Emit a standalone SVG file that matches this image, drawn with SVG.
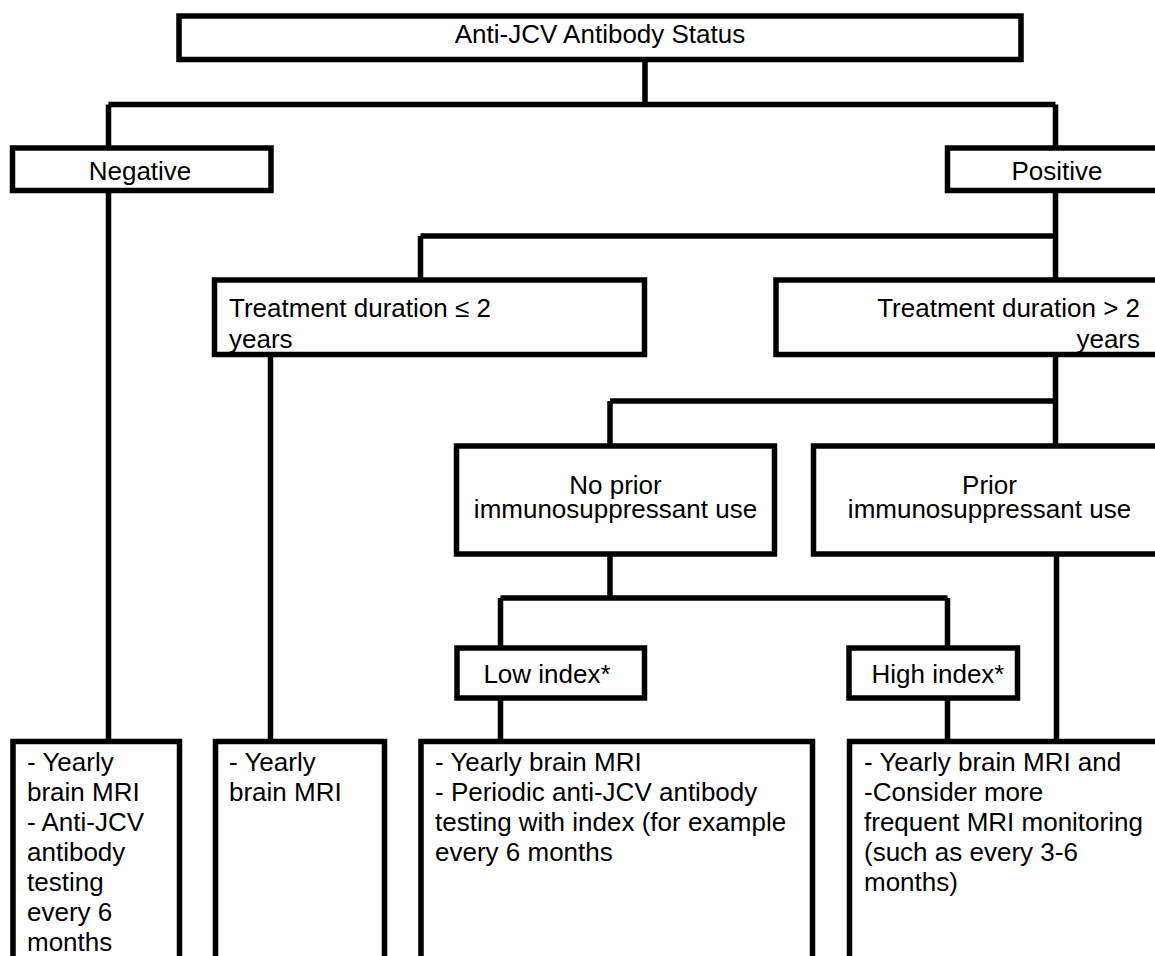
<svg xmlns="http://www.w3.org/2000/svg" width="1155" height="956" viewBox="0 0 1155 956">
<style>
.b{fill:#fff;stroke:#000;stroke-width:5.5}
.c{fill:none;stroke:#000;stroke-width:5.5}
text{font-family:"Liberation Sans",Arial,sans-serif;font-size:26px;fill:#000}
.m{text-anchor:middle}
.e{text-anchor:end}
</style>
<rect width="1155" height="956" fill="#fff"/>
<g id="connectors">
<path class="c" d="M645 59.5V104.5M108.5 104.5H1055.5M108.5 104.5V148M1055.5 104.5V148"/>
<path class="c" d="M108.5 190.5V741.5"/>
<path class="c" d="M1055.5 190.5V280M420.5 236H1055.5M420.5 236V280"/>
<path class="c" d="M270.5 354.5V741.5"/>
<path class="c" d="M1055.5 354.5V446M610 401H1055.5M610 401V446"/>
<path class="c" d="M610 554V598M500.5 598H947.5M500.5 598V648M947.5 598V648"/>
<path class="c" d="M500.5 698V741.5M947.5 698V741.5M1056.5 554V741.5"/>
</g>
<g id="status">
<rect class="b" x="179" y="16" width="842" height="43.5"/>
<text class="m" x="600" y="43">Anti-JCV Antibody Status</text>
</g>
<g id="negative">
<rect class="b" x="12.5" y="148" width="258.5" height="42.5"/>
<text class="m" x="140" y="180">Negative</text>
</g>
<g id="positive">
<rect class="b" x="947.5" y="148" width="220" height="42.5"/>
<text class="m" x="1057" y="179.5">Positive</text>
</g>
<g id="le2">
<rect class="b" x="214.5" y="280" width="430" height="74.5"/>
<text x="229" y="317">Treatment duration ≤ 2</text>
<text x="229" y="348">years</text>
</g>
<g id="gt2">
<rect class="b" x="776" y="280" width="392" height="74.5"/>
<text class="e" x="1140" y="317">Treatment duration &gt; 2</text>
<text class="e" x="1140" y="348">years</text>
</g>
<g id="noprior">
<rect class="b" x="456.5" y="446" width="318" height="108"/>
<text class="m" x="615.5" y="494">No prior</text>
<text class="m" x="615.5" y="518">immunosuppressant use</text>
</g>
<g id="prior">
<rect class="b" x="813.5" y="446" width="354" height="108"/>
<text class="m" x="989.5" y="494">Prior</text>
<text class="m" x="989.5" y="518">immunosuppressant use</text>
</g>
<g id="low">
<rect class="b" x="457" y="648" width="187.5" height="50"/>
<text class="m" x="547" y="683">Low index*</text>
</g>
<g id="high">
<rect class="b" x="849" y="648" width="168.5" height="50"/>
<text class="m" x="938" y="683">High index*</text>
</g>
<g id="out1">
<rect class="b" x="13" y="741.5" width="166.5" height="240"/>
<text x="27" y="771">- Yearly</text>
<text x="27" y="801">brain MRI</text>
<text x="27" y="831">- Anti-JCV</text>
<text x="27" y="861">antibody</text>
<text x="27" y="891">testing</text>
<text x="27" y="921">every 6</text>
<text x="27" y="951">months</text>
</g>
<g id="out2">
<rect class="b" x="215.5" y="741.5" width="169" height="240"/>
<text x="229" y="771">- Yearly</text>
<text x="229" y="801">brain MRI</text>
</g>
<g id="out3">
<rect class="b" x="421" y="741.5" width="391.5" height="240"/>
<text x="435" y="771">- Yearly brain MRI</text>
<text x="435" y="801">- Periodic anti-JCV antibody</text>
<text x="435" y="831">testing with index (for example</text>
<text x="435" y="861">every 6 months</text>
</g>
<g id="out4">
<rect class="b" x="849.5" y="741.5" width="330" height="240"/>
<text x="864" y="771">- Yearly brain MRI and</text>
<text x="864" y="801">-Consider more</text>
<text x="864" y="831">frequent MRI monitoring</text>
<text x="864" y="861">(such as every 3-6</text>
<text x="864" y="891">months)</text>
</g>
</svg>
